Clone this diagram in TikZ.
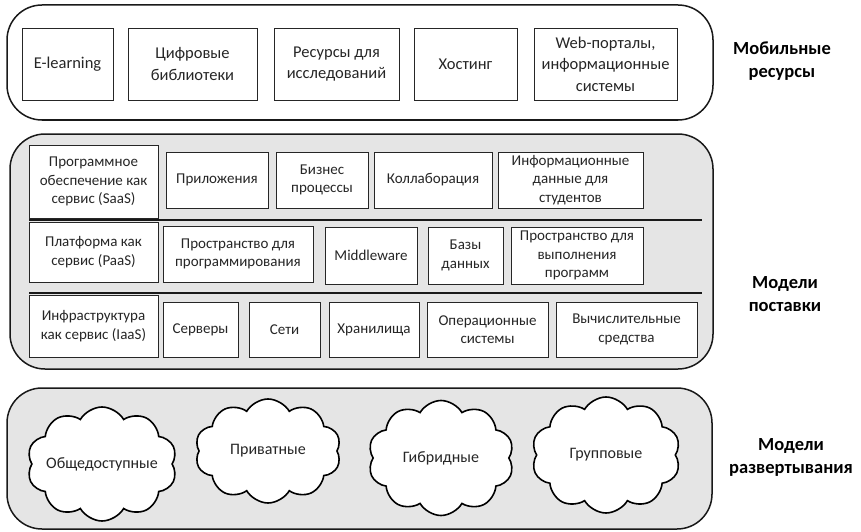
\documentclass[tikz,border=0pt]{standalone}
\usepackage{fontspec}
\setmainfont{Carlito}
\usetikzlibrary{shapes.symbols}
\begin{document}
\begin{tikzpicture}[x=1pt,y=-1pt,
  frame/.style={draw=black!90,line width=1.5pt,rounded corners=35pt},
  item/.style={draw=black!85,line width=0.9pt,fill=white,align=center,
    font=\fontsize{15}{18.5}\selectfont,text=black!85,inner sep=0pt},
  bigitem/.style={item,font=\fontsize{16.5}{21.5}\selectfont},
  sep/.style={draw=black!90,line width=2pt},
  side/.style={align=center,font=\fontsize{18.5}{23}\selectfont\bfseries},
  puff/.style={cloud,cloud puffs=10,cloud puff arc=120,cloud ignores aspect,
    draw=black,line width=1.6pt,fill=white,inner sep=0pt},
  pufftext/.style={font=\fontsize{16}{20}\selectfont,text=black!85}]
\useasboundingbox (0,0) rectangle (861,532);
% box helper: [style], left, top, right, bottom, name
\newcommand{\bx}[6][]{\node[item,#1,minimum width=#4-#2,minimum height=#5-#3] (#6) at ({(#2+#4)/2},{(#3+#5)/2})}

% ---- Top layer: resources
\draw[frame,fill=white] (7,5) rectangle (713,120);
\bx[bigitem]{22}{28}{113}{100}{el} {E-learning};
\bx[bigitem]{128}{28}{257}{100}{lib} {Цифровые\\библиотеки};
\bx[bigitem]{274}{28}{399}{100}{res} {Ресурсы для\\исследований};
\bx[bigitem]{414}{28}{517}{100}{host} {Хостинг};
\bx[bigitem]{534}{28}{677}{100}{web} {Web-порталы,\\информационные\\системы};
\node[side] (mob) at (782,61) {Мобильные\\ресурсы};

% ---- Middle layer: service models
\draw[frame,fill=black!10] (10,134) rectangle (713,369);
\bx{29}{145}{158}{218}{saas} {Программное\\обеспечение как\\сервис (SaaS)};
\bx{166}{152}{268}{208}{app} {Приложения};
\bx{276}{152}{368}{208}{bp} {Бизнес\\процессы};
\bx{374}{152}{492}{208}{col} {Коллаборация};
\bx{498}{152}{643}{208}{inf} {Информационные\\данные для\\студентов};
\coordinate (s1a) at (29,220); \coordinate (s1b) at (702,220);
\draw[sep] (s1a) -- (s1b);
\bx{29}{222}{158}{282}{paas} {Платформа как\\сервис (PaaS)};
\bx{163}{226}{313}{282}{dev} {Пространство для\\программирования};
\bx{325}{227}{417}{284}{mw} {Middleware};
\bx{428}{227}{503}{284}{db} {Базы\\данных};
\bx{511}{227}{643}{284}{run} {Пространство для\\выполнения\\программ};
\coordinate (s2a) at (29,293); \coordinate (s2b) at (702,293);
\draw[sep] (s2a) -- (s2b);
\bx{29}{295}{158}{357}{iaas} {Инфраструктура\\как сервис (IaaS)};
\bx{163}{302}{238}{357}{srv} {Серверы};
\bx{249}{302}{320}{357}{net} {Сети};
\bx{329}{302}{419}{357}{sto} {Хранилища};
\bx{427}{302}{548}{357}{os} {Операционные\\системы};
\bx{556}{302}{697}{357}{cmp} {Вычислительные\\средства};
\node[side] (del) at (785,294) {Модели\\поставки};

% ---- Bottom layer: deployment models
\draw[frame,fill=black!10] (7,388) rectangle (712,529);
\node[puff,minimum width=150pt,minimum height=114pt,
  label={[pufftext]center:Общедоступные}] (pub) at (102,464) {};
\node[puff,minimum width=146pt,minimum height=104pt,
  label={[pufftext]center:Приватные}] (prv) at (268,451) {};
\node[puff,minimum width=146pt,minimum height=115pt,
  label={[pufftext]center:Гибридные}] (hyb) at (441,458) {};
\node[puff,minimum width=149pt,minimum height=116pt,
  label={[pufftext]center:Групповые}] (grp) at (606,455) {};
\node[side] (dep) at (791,457) {Модели\\развертывания};
\end{tikzpicture}
\end{document}
